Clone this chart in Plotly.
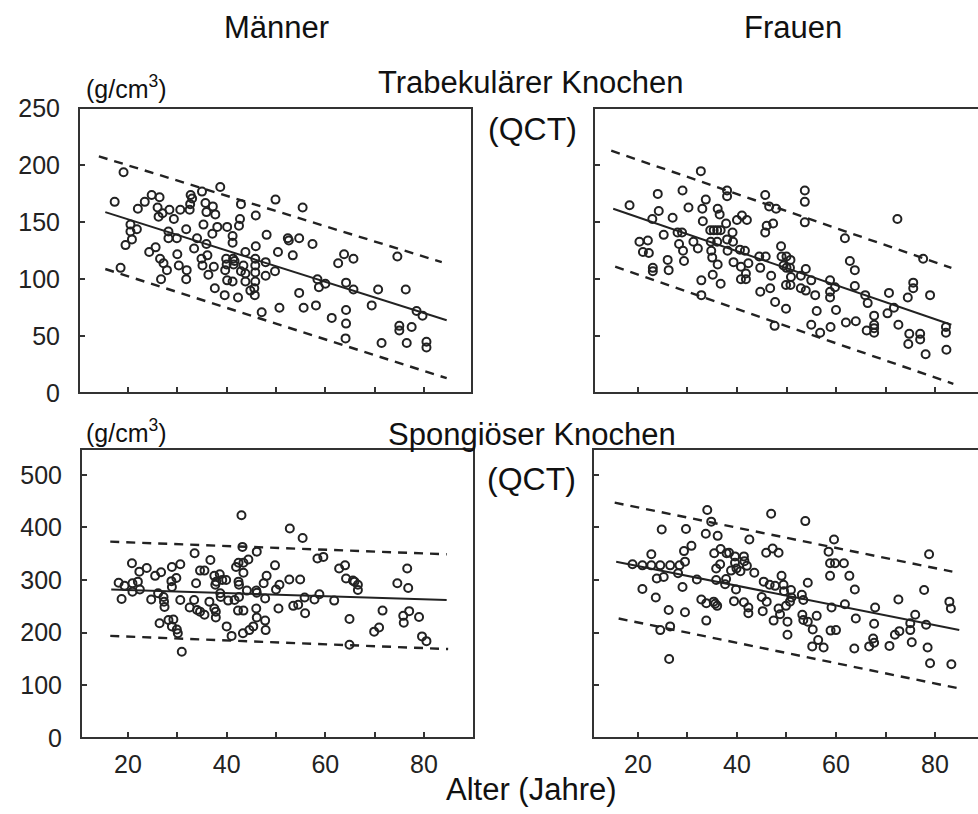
import plotly.graph_objects as go

W, H = 978, 814
FONT = "Liberation Sans, Arial, sans-serif"
INK = "#222222"

# ---------------- data ----------------
# Trabekulärer Knochen, Männer (age, g/cm3)
tl_age = [17.3, 19.1, 18.5, 19.5, 20.5, 20.5, 20.8, 21.8, 22, 23.4,
          24.3, 24.8, 25.6, 26.4, 26, 26.2, 27, 26.5, 27.2, 27.9,
          26.7, 28.2, 28.2, 28.4, 29.3, 29.9, 30, 30.3, 30.6, 31.9,
          31.8, 31.8, 32.5, 32.7, 32.6, 33, 33.4, 34, 35, 34.9,
          35.1, 35.3, 35.7, 35.9, 35.9, 36.1, 36.3, 37.1, 37.2, 37.4,
          37.7, 37.6, 38.1, 38.7, 39.6, 39.7, 39.9, 40, 40.1, 40.1,
          41.2, 41.2, 41.2, 41.3, 41.4, 41.6, 42.3, 42.5, 42.7, 42.9,
          42.9, 43.4, 43.8, 43.8, 43.8, 44.8, 45.6, 45.7, 45.8, 45.8,
          45.8, 45.8, 45.9, 45.9, 47.1, 47.9, 48.1, 47.9, 49.8, 49.9,
          50.4, 50.7, 52.4, 52.6, 53.4, 54.7, 54.7, 55.4, 55.6, 57.4,
          58.1, 58.4, 58.7, 60, 61.3, 62.6, 63.8, 64.2, 64.2, 64.2,
          64.1, 65.7, 65.7, 69.4, 70.7, 71.4, 74.6, 75, 75, 76.3,
          77.5, 76.5, 78.5, 79.7, 80.5, 80.5]
tl_val = [168, 194, 110, 130, 148, 142, 135, 144, 162, 168,
          124, 174, 128, 172, 163, 155, 158, 118, 114, 108,
          100, 142, 136, 161, 153, 136, 122, 112, 161, 108,
          100, 144, 161, 174, 166, 171, 127, 136, 177, 118,
          112, 148, 167, 131, 159, 121, 104, 140, 164, 111,
          157, 92, 146, 181, 86, 108, 118, 113, 146, 99,
          98, 138, 132, 118, 113, 116, 84, 147, 153, 166,
          107, 112, 124, 105, 98, 90, 92, 86, 98, 106,
          112, 118, 129, 156, 71, 115, 139, 103, 107, 170,
          124, 75, 136, 134, 121, 136, 88, 163, 75, 131,
          77, 100, 93, 96, 66, 114, 122, 97, 73, 61,
          48, 118, 91, 77, 91, 44, 120, 59, 55, 91,
          58, 44, 72, 68, 45, 40]

# Trabekulärer Knochen, Frauen
tr_age = [18.3, 20.3, 22, 21, 22.2, 23, 23, 22.9, 24, 24.2,
          25.2, 26, 26.2, 27, 28, 28.9, 28.3, 29, 29.1, 29.3,
          30.2, 31.2, 32.1, 32.7, 32.8, 32.8, 33, 33.1, 33.7, 34.6,
          35.3, 36, 36.7, 34.7, 36, 34.8, 35, 35.1, 36.1, 36.5,
          36.1, 36.7, 38, 38, 37.8, 38, 38.1, 39.1, 39.2, 39.3,
          40, 41, 42, 40.6, 41.6, 40.8, 40.8, 41.8, 41.8, 42.3,
          44.5, 45.8, 44.7, 44.7, 45.7, 45.7, 46, 46.5, 47.9, 47.3,
          46.7, 46.9, 47.7, 47.6, 48.9, 49, 50, 50.8, 49.4, 50,
          50.7, 49.9, 50.8, 49.9, 50.9, 52.9, 52.9, 53.9, 53.7, 53.7,
          53.7, 53.9, 55, 55, 55.8, 56.1, 56.8, 58.8, 58.8, 58.8,
          58.9, 59.8, 60, 61.8, 62, 62.8, 63.8, 63.8, 64, 65.9,
          66.4, 66.2, 67.7, 67.7, 67.7, 67.7, 70.4, 70.7, 71.7, 72.4,
          72.6, 74.5, 74.8, 74.6, 75.6, 75.6, 77, 77, 77.6, 78.1,
          79, 82.2, 82.2, 82.3]
tr_val = [165, 133, 134, 124, 123, 110, 107, 153, 175, 160,
          139, 117, 108, 154, 141, 141, 131, 178, 125, 116,
          163, 133, 127, 195, 99, 86, 162, 151, 170, 143,
          143, 143, 143, 133, 133, 125, 119, 104, 162, 157,
          113, 96, 178, 173, 149, 135, 125, 141, 133, 115,
          152, 156, 152, 126, 125, 111, 100, 100, 105, 114,
          120, 120, 89, 110, 174, 141, 147, 164, 162, 149,
          92, 103, 80, 59, 129, 120, 120, 117, 112, 110,
          110, 95, 95, 74, 102, 103, 92, 90, 178, 168,
          150, 109, 60, 99, 86, 72, 53, 99, 89, 84,
          58, 93, 73, 136, 62, 116, 108, 94, 63, 86,
          79, 55, 68, 60, 57, 53, 70, 88, 75, 153,
          60, 84, 52, 43, 97, 92, 52, 47, 118, 34,
          86, 58, 53, 38]

# Spongiöser Knochen, Männer
bl_age = [18.1, 18.7, 19.3, 20.9, 20.9, 20.8, 22, 22.3, 22.4, 23.8,
          24.7, 25.5, 26.7, 26.1, 27.2, 26.4, 27.3, 27.4, 28.2, 28.9,
          28.9, 29.8, 28.9, 28.8, 29.2, 29.9, 30.1, 30.6, 30.6, 30.9,
          32.5, 33.4, 34, 34.6, 33.5, 33.8, 34.6, 35.5, 35.5, 36.5,
          36.7, 37.5, 38.6, 39.1, 37.7, 37.9, 38.7, 39.9, 38.8, 37.5,
          37.8, 37.8, 40, 40.3, 41, 41.6, 41.9, 42.4, 43.4, 44.4,
          42.4, 42.5, 42.5, 43, 43.2, 43.4, 42.3, 43.4, 43.3, 44.6,
          45.4, 44.1, 46.1, 46, 46.1, 46, 46.1, 47.8, 47.9, 47.8,
          47.5, 48.1, 49.8, 50, 50.7, 50.5, 52.7, 52.8, 53.5, 54.5,
          54.9, 55.4, 55.8, 55.9, 57.8, 58.4, 59.6, 58.8, 61.8, 62.8,
          64, 64.2, 65.6, 66.6, 66.6, 65.9, 64.9, 64.9, 69.9, 70.9,
          71.6, 74.6, 75.8, 75.9, 76.6, 76.8, 77, 79, 79.6, 80.5]
bl_val = [295, 264, 289, 294, 278, 332, 297, 316, 282, 323,
          263, 308, 315, 275, 268, 218, 259, 249, 224, 212,
          325, 304, 287, 298, 225, 206, 199, 330, 262, 164,
          248, 262, 243, 240, 351, 294, 318, 318, 234, 259,
          338, 308, 311, 300, 291, 297, 275, 300, 268, 246,
          240, 229, 212, 261, 194, 262, 325, 333, 333, 339,
          297, 291, 268, 423, 363, 314, 242, 242, 199, 205,
          212, 280, 354, 280, 276, 246, 229, 223, 205, 265,
          294, 308, 328, 282, 291, 246, 301, 398, 251, 253,
          301, 380, 267, 237, 263, 341, 344, 273, 261, 322,
          328, 303, 299, 291, 281, 297, 226, 177, 202, 210,
          242, 294, 232, 219, 322, 285, 241, 230, 193, 184]

# Spongiöser Knochen, Frauen
br_age = [18.9, 20.9, 22.7, 24.5, 26.5, 28.4, 20.9, 22.7, 23.6, 23.8,
          25.2, 24.8, 26.2, 24.5, 26.5, 26.3, 28.1, 29, 29.3, 30.8,
          29.5, 29.7, 29.5, 31.9, 32.8, 33.8, 35.3, 36, 35.6, 33.7,
          33.8, 34, 34.8, 35.4, 36.7, 37.9, 38.4, 36.1, 35.8, 36.6,
          35.8, 37.8, 37.6, 38.8, 39.9, 40.7, 39.6, 39.6, 41.4, 41.5,
          42, 43.5, 39.4, 41.4, 42.3, 42.3, 39.8, 42.5, 45.2, 45,
          46, 45.4, 46.6, 47.7, 49.4, 49.5, 45.9, 47.2, 48.4, 46.9,
          47.4, 48.7, 48.4, 49, 49.9, 51, 50.9, 50.7, 50.2, 50.2,
          53.1, 53.4, 53.2, 53.4, 54.3, 53.8, 54.3, 55.3, 56.1, 56.4,
          55.2, 57.5, 58.5, 58.8, 58.8, 59.8, 61.6, 59.1, 59.6, 58.9,
          60, 61.8, 62.7, 63.8, 64, 63.7, 66.7, 67.5, 67.7, 67.9,
          67.7, 70.8, 71.9, 72.8, 72.6, 75, 75, 75.3, 76, 77.8,
          78.2, 78.5, 78.8, 79, 82.9, 83.2, 83.3]
br_val = [330, 328, 328, 328, 328, 328, 283, 349, 267, 303,
          306, 396, 243, 205, 212, 150, 313, 287, 355, 365,
          239, 397, 335, 301, 263, 256, 259, 251, 255, 388,
          223, 433, 411, 351, 359, 351, 352, 384, 322, 330,
          300, 302, 292, 318, 322, 317, 345, 333, 345, 336,
          327, 314, 260, 258, 248, 237, 282, 377, 241, 268,
          259, 297, 291, 289, 291, 279, 352, 360, 352, 426,
          223, 235, 246, 308, 251, 267, 281, 259, 221, 196,
          272, 262, 234, 224, 221, 412, 295, 206, 232, 186,
          174, 172, 354, 332, 308, 332, 332, 248, 377, 204,
          205, 254, 308, 282, 227, 170, 174, 189, 181, 248,
          217, 175, 196, 203, 263, 218, 205, 182, 234, 281,
          215, 172, 349, 142, 259, 246, 140]

# regression line (solid) and limits (dashed): end points (age, value)
tl_fit_x, tl_fit_y = [15.4, 84.6], [159, 64]
tl_up_x, tl_up_y = [14.1, 83.6], [208, 115]
tl_lo_x, tl_lo_y = [15.4, 84.6], [109, 13]
tr_fit_x, tr_fit_y = [15.0, 83.3], [162, 60]
tr_up_x, tr_up_y = [14.6, 83.3], [213, 110]
tr_lo_x, tr_lo_y = [15.4, 83.7], [111, 8]
bl_fit_x, bl_fit_y = [16.6, 84.6], [282, 262]
bl_up_x, bl_up_y = [16.4, 84.6], [373, 349]
bl_lo_x, bl_lo_y = [16.4, 84.9], [194, 169]
br_fit_x, br_fit_y = [15.6, 84.9], [335, 205]
br_up_x, br_up_y = [15.3, 83.5], [447, 316]
br_lo_x, br_lo_y = [16.1, 84.4], [227, 95]

x_ticks = [20, 30, 40, 50, 60, 70, 80]
x_tick_text = ["20", "", "40", "", "60", "", "80"]
y_ticks_top = [0, 50, 100, 150, 200, 250]
y_ticks_bottom = [0, 100, 200, 300, 400, 500]

for a, b in [(tl_age, tl_val), (tr_age, tr_val), (bl_age, bl_val), (br_age, br_val)]:
    assert len(a) == len(b), (len(a), len(b))

# ---------------- figure ----------------
def px_x(p):
    return p / W

def px_y(p):
    return 1 - p / H

panels = [
    ("", tl_age, tl_val, [(tl_fit_x, tl_fit_y, "solid"), (tl_up_x, tl_up_y, "dash"), (tl_lo_x, tl_lo_y, "dash")],
     (79, 472), (108, 393), [10.07, 89.73], [0, 250.5], y_ticks_top, True, False),
    ("2", tr_age, tr_val, [(tr_fit_x, tr_fit_y, "solid"), (tr_up_x, tr_up_y, "dash"), (tr_lo_x, tr_lo_y, "dash")],
     (594, 978), (108, 393), [11.12, 88.68], [0, 250.5], y_ticks_top, False, False),
    ("3", bl_age, bl_val, [(bl_fit_x, bl_fit_y, "solid"), (bl_up_x, bl_up_y, "dash"), (bl_lo_x, bl_lo_y, "dash")],
     (81, 474), (449, 738), [10.47, 90.14], [0, 549], y_ticks_bottom, True, True),
    ("4", br_age, br_val, [(br_fit_x, br_fit_y, "solid"), (br_up_x, br_up_y, "dash"), (br_lo_x, br_lo_y, "dash")],
     (593, 978), (449, 738), [10.92, 88.68], [0, 549], y_ticks_bottom, False, True),
]

fig = go.Figure()
layout = dict(
    width=W, height=H,
    margin=dict(l=0, r=0, t=0, b=0, autoexpand=False),
    paper_bgcolor="white", plot_bgcolor="white",
    showlegend=False,
    font=dict(family=FONT, color="#111111"),
)
shapes = []
for suf, ages, vals, lines, xd, yd, xr, yr, yt, ylab, xlab in panels:
    xa, ya = "x" + suf, "y" + suf
    fig.add_trace(go.Scatter(
        x=ages, y=vals, mode="markers", xaxis=xa, yaxis=ya,
        marker=dict(symbol="circle-open", size=8, color=INK, line=dict(width=2, color=INK)),
        cliponaxis=False,
    ))
    for lx, ly, dash in lines:
        fig.add_trace(go.Scatter(
            x=lx, y=ly, mode="lines", xaxis=xa, yaxis=ya,
            line=dict(color=INK, width=2 if dash == "solid" else 2.4,
                      dash="solid" if dash == "solid" else "9px,7px"),
        ))
    layout["xaxis" + suf] = dict(
        domain=[px_x(xd[0]), px_x(xd[1])], range=xr, anchor=ya,
        showgrid=False, zeroline=False, showline=False, automargin=False,
        tickmode="array", tickvals=x_ticks, ticktext=x_tick_text,
        ticks="inside", ticklen=6, tickwidth=1.6, tickcolor="#333333",
        showticklabels=xlab, ticklabelstandoff=9,
        tickfont=dict(family=FONT, size=25, color="#222222"),
    )
    layout["yaxis" + suf] = dict(
        domain=[px_y(yd[1]), px_y(yd[0])], range=yr, anchor=xa,
        showgrid=False, zeroline=False, showline=False, automargin=False,
        tickmode="array", tickvals=yt,
        ticks="inside", ticklen=6, tickwidth=1.6, tickcolor="#333333",
        showticklabels=ylab, ticklabelstandoff=18,
        tickfont=dict(family=FONT, size=25, color="#222222"),
    )
    x1 = 1.0 if suf in ("", "3") else 1.05
    shapes.append(dict(type="rect", xref=xa + " domain", yref=ya + " domain",
                       x0=0, x1=x1, y0=0, y1=1,
                       line=dict(color="#333333", width=2), fillcolor="rgba(0,0,0,0)"))
layout["shapes"] = shapes

def ann(text, x, y, size, xanchor="center"):
    return dict(text=text, x=px_x(x), y=px_y(y), xref="paper", yref="paper",
                xanchor=xanchor, yanchor="middle", showarrow=False,
                font=dict(family=FONT, size=size, color="#111111"))

layout["annotations"] = [
    ann("Männer", 276, 28, 31),
    ann("Frauen", 793, 28, 31),
    ann("Trabekulärer Knochen", 531, 82, 31),
    ann("(QCT)", 532, 129, 32),
    ann("(g/cm<sup>3</sup>)", 84, 87, 25, "left"),
    ann("Spongiöser Knochen", 532, 435, 31),
    ann("(QCT)", 531, 479, 32),
    ann("(g/cm<sup>3</sup>)", 84, 431, 25, "left"),
    ann("Alter (Jahre)", 531, 789, 31),
]
fig.update_layout(**layout)
fig.write_html("out.html")
